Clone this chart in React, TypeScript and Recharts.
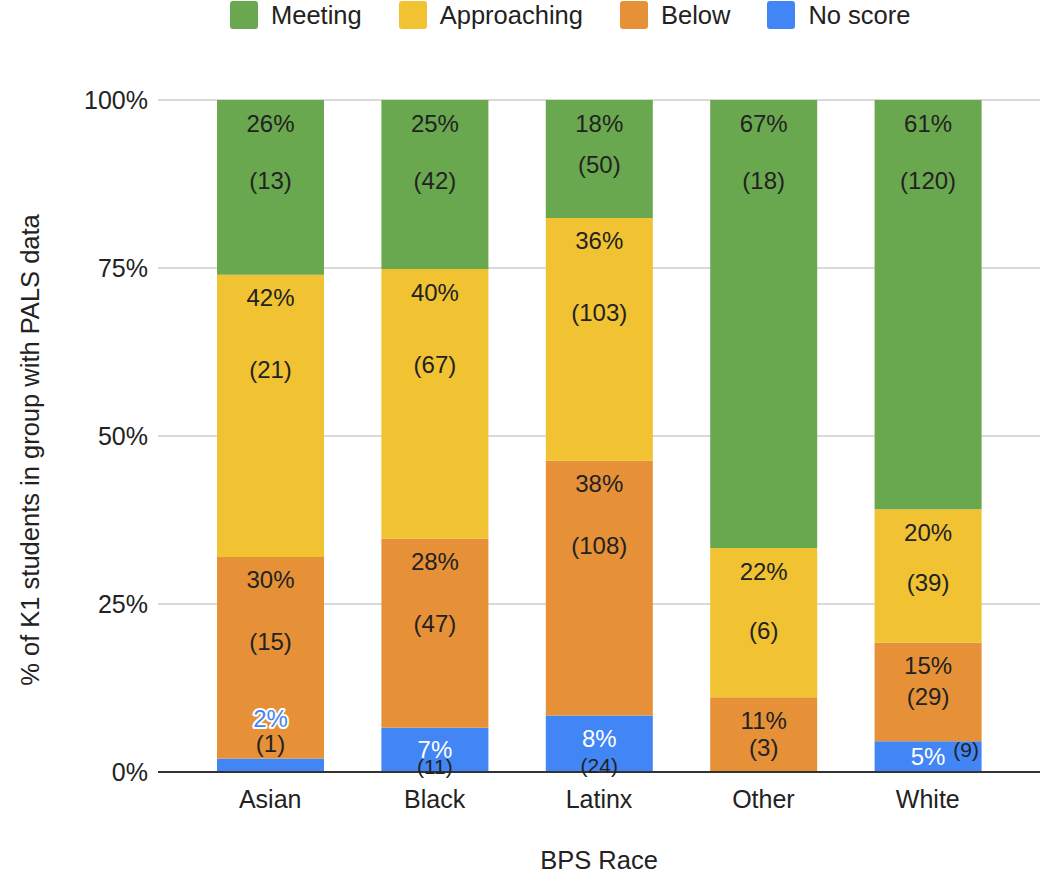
import React from 'react';
import { BarChart, Bar, XAxis, YAxis, CartesianGrid, Legend, Label, LabelList } from 'recharts';

const categories = ['Asian', 'Black', 'Latinx', 'Other', 'White'];
const noScore = [1, 11, 24, 0, 9];
const below = [15, 47, 108, 3, 29];
const approaching = [21, 67, 103, 6, 39];
const meeting = [13, 42, 50, 18, 120];
const yTicks = [0, 0.25, 0.5, 0.75, 1];

const FONT = '"Liberation Sans", Arial, Helvetica, sans-serif';

const data = categories.map((c, i) => ({
  name: c,
  noScore: noScore[i],
  below: below[i],
  approaching: approaching[i],
  meeting: meeting[i],
}));

const totals = categories.map((_, i) => noScore[i] + below[i] + approaching[i] + meeting[i]);

const seriesInfo = [
  { key: 'meeting', name: 'Meeting', color: '#6aa84f' },
  { key: 'approaching', name: 'Approaching', color: '#f1c232' },
  { key: 'below', name: 'Below', color: '#e69138' },
  { key: 'noScore', name: 'No score', color: '#4285f4' },
];

const makeLabel = (values: number[], isBlue: boolean, cap: number) => (props: any) => {
  const vb = props.viewBox || props;
  const x = Number(vb.x ?? props.x);
  const y = Number(vb.y ?? props.y);
  const width = Number(vb.width ?? props.width);
  const height = Number(vb.height ?? props.height);
  const index = categories.indexOf(String(props.value));
  if (index < 0 || !isFinite(x) || !isFinite(y)) return null;
  const h = Math.abs(height);
  const top = height < 0 ? y + height : y;
  const count = values[index];
  if (!count || h < 1) return null;
  const pct = Math.round((count / totals[index]) * 100) + '%';
  const cx = x + width / 2;
  const common = { fontFamily: FONT, fontSize: 24, textAnchor: 'middle' as const, dominantBaseline: 'central' as const };
  const small = { ...common, fontSize: 21 };
  if (isBlue) {
    if (h < 20) {
      return (
        <g>
          <text {...common} x={cx} y={top - 40} fill="#4285f4" stroke="#ffffff" strokeWidth={4} paintOrder="stroke" strokeLinejoin="round">{pct}</text>
          <text {...common} x={cx} y={top - 15} fill="#222">({count})</text>
        </g>
      );
    }
    if (h < 40) {
      return (
        <g>
          <text {...common} x={cx} y={top + h / 2} fill="#fff">{pct}</text>
          <text {...small} x={cx + 38} y={top + 8} fill="#222">({count})</text>
        </g>
      );
    }
    return (
      <g>
        <text {...common} x={cx} y={top + Math.min(23, h / 2)} fill="#fff">{pct}</text>
        <text {...small} x={cx} y={top + 0.88 * h} fill="#222">({count})</text>
      </g>
    );
  }
  const cOff = h <= 60 ? 0.87 * h : Math.min(cap, 0.55 * h);
  return (
    <g>
      <text {...common} x={cx} y={top + Math.min(23, h / 2)} fill="#222">{pct}</text>
      <text {...common} x={cx} y={top + Math.max(cOff, 50)} fill="#222">({count})</text>
    </g>
  );
};

const LegendContent = () => (
  <div style={{ display: 'flex', alignItems: 'center', height: 30, paddingLeft: 230, fontFamily: FONT, fontSize: 25.5, color: '#222' }}>
    {seriesInfo.map((s) => (
      <div key={s.key} style={{ display: 'flex', alignItems: 'center', marginRight: 37 }}>
        <div style={{ width: 28, height: 28, borderRadius: 3, background: s.color, marginRight: 13 }} />
        <span>{s.name}</span>
      </div>
    ))}
  </div>
);

export default function App() {
  return (
    <div style={{ position: 'absolute', left: 0, top: 0, width: 1047, height: 874, background: '#fff' }}>
      <BarChart
        width={1047}
        height={874}
        data={data}
        stackOffset="expand"
        margin={{ top: 70, right: 7, bottom: 0, left: 0 }}
      >
        <CartesianGrid vertical={false} stroke="#cccccc" strokeWidth={1.5} />
        <Legend verticalAlign="top" content={<LegendContent />} wrapperStyle={{ top: 0, left: 0, width: 1047, height: 30 }} />
        <XAxis
          dataKey="name"
          height={102}
          tickLine={false}
          axisLine={{ stroke: '#333', strokeWidth: 2 }}
          tickMargin={12}
          padding={{ left: 30, right: 30 }}
          tick={{ fontFamily: FONT, fontSize: 25, fill: '#222' }}
        >
          <Label
            content={() => (
              <text x={599} y={860} textAnchor="middle" dominantBaseline="central" fontFamily={FONT} fontSize={25.5} fill="#222">
                BPS Race
              </text>
            )}
          />
        </XAxis>
        <YAxis
          width={158}
          domain={[0, 1]}
          ticks={yTicks}
          tickFormatter={(v: number) => `${Math.round(v * 100)}%`}
          tickLine={false}
          axisLine={false}
          tickMargin={4}
          tick={{ fontFamily: FONT, fontSize: 25, fill: '#222' }}
        >
          <Label
            content={() => (
              <text x={30} y={450} transform="rotate(-90 30 450)" textAnchor="middle" dominantBaseline="central" fontFamily={FONT} fontSize={25.5} fill="#222">
                % of K1 students in group with PALS data
              </text>
            )}
          />
        </YAxis>
        <Bar dataKey="noScore" stackId="a" fill="#4285f4" barSize={107} isAnimationActive={false}>
          <LabelList dataKey="name" content={makeLabel(noScore, true, 0)} />
        </Bar>
        <Bar dataKey="below" stackId="a" fill="#e69138" barSize={107} isAnimationActive={false}>
          <LabelList dataKey="name" content={makeLabel(below, false, 85)} />
        </Bar>
        <Bar dataKey="approaching" stackId="a" fill="#f1c232" barSize={107} isAnimationActive={false}>
          <LabelList dataKey="name" content={makeLabel(approaching, false, 95)} />
        </Bar>
        <Bar dataKey="meeting" stackId="a" fill="#6aa84f" barSize={107} isAnimationActive={false}>
          <LabelList dataKey="name" content={makeLabel(meeting, false, 80)} />
        </Bar>
      </BarChart>
    </div>
  );
}
